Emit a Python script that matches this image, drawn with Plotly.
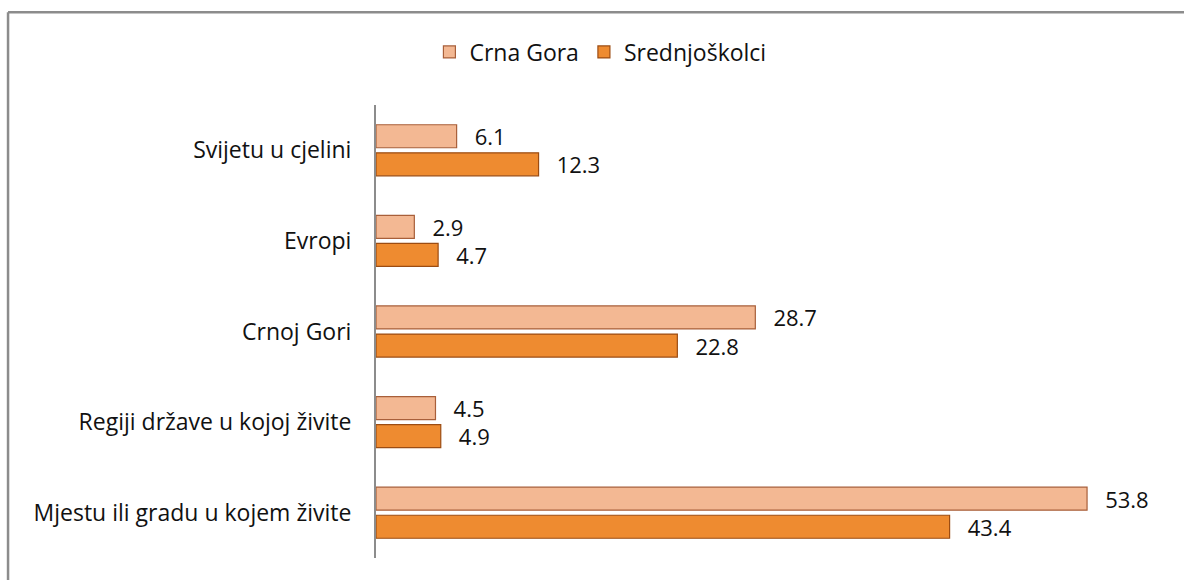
import plotly.graph_objects as go

categories = ["Svijetu u cjelini", "Evropi", "Crnoj Gori", "Regiji države u kojoj živite", "Mjestu ili gradu u kojem živite"]
crna_gora = [6.1, 2.9, 28.7, 4.5, 53.8]
srednjoskolci = [12.3, 4.7, 22.8, 4.9, 43.4]
series_names = ["Crna Gora", "Srednjoškolci"]

FONT = "Open Sans"
FS = 23
LFS = 22
pad = "\u00a0\u00a0\u2009"

fig = go.Figure()
fig.add_trace(go.Bar(
    y=categories, x=crna_gora, orientation="h", name=series_names[0],
    marker=dict(color="#F3B893", line=dict(color="#A85F3A", width=1.2)),
    text=crna_gora, texttemplate=pad + "%{x:.1f}", textposition="outside",
    constraintext="none",
    textfont=dict(family=FONT, size=LFS, color="#111"), cliponaxis=False,
))
fig.add_trace(go.Bar(
    y=categories, x=srednjoskolci, orientation="h", name=series_names[1],
    marker=dict(color="#EE8B30", line=dict(color="#9C4C12", width=1.2)),
    text=srednjoskolci, texttemplate=pad + "%{x:.1f}", textposition="outside",
    constraintext="none",
    textfont=dict(family=FONT, size=LFS, color="#111"), cliponaxis=False,
))

fig.update_layout(
    width=1184, height=580,
    margin=dict(l=376, r=15, t=105, b=22),
    paper_bgcolor="white", plot_bgcolor="white",
    barmode="group", bargap=0.38, bargroupgap=0.18,
    font=dict(family=FONT, size=FS, color="#111"),
    showlegend=True,
    legend=dict(orientation="h", x=0.283, y=1.117, xanchor="center", yanchor="middle",
                font=dict(family=FONT, size=FS, color="#111"), itemwidth=30,
                traceorder="normal"),
    xaxis=dict(range=[0, 60], visible=False, showgrid=False, zeroline=False),
    yaxis=dict(autorange="reversed", showline=True, linecolor="#8C8C8C", linewidth=2,
               ticks="", showgrid=False, ticklabelstandoff=18,
               tickfont=dict(family=FONT, size=FS, color="#111")),
    shapes=[
        dict(type="line", xref="paper", yref="paper", x0=-0.464, x1=1.1, y0=1.205, y1=1.205,
             line=dict(color="#8C8C8C", width=2.5)),
        dict(type="line", xref="paper", yref="paper", x0=-0.464, x1=-0.464, y0=1.205, y1=-0.1,
             line=dict(color="#8C8C8C", width=2.5)),
    ],
)

fig.write_html("out.html", config={"displayModeBar": False},
               post_script="document.body.style.margin='0';")
